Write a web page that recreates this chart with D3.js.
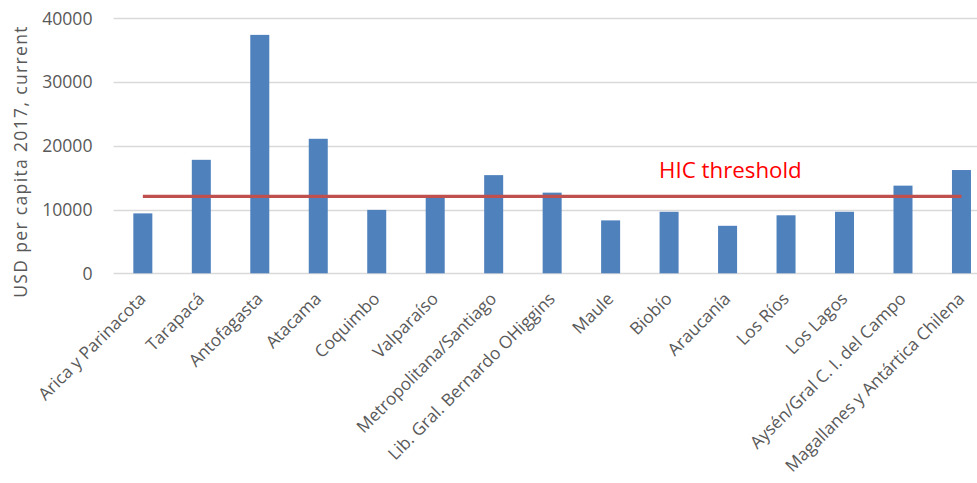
<!DOCTYPE html>
<html>
<head>
<meta charset="utf-8">
<script src="https://cdn.jsdelivr.net/npm/d3@7/dist/d3.min.js"></script>
<style>
  html, body { margin: 0; padding: 0; background: #fff; }
  svg { display: block; font-family: "Open Sans", sans-serif; }
</style>
</head>
<body>
<svg id="chart" width="977" height="483"></svg>
<script>
// Chilean regions, GDP per capita 2017 (USD, current)
const regions = [
  "Arica y Parinacota", "Tarapacá", "Antofagasta", "Atacama", "Coquimbo",
  "Valparaíso", "Metropolitana/Santiago", "Lib. Gral. Bernardo OHiggins",
  "Maule", "Biobío", "Araucanía", "Los Ríos", "Los Lagos",
  "Aysén/Gral C. I. del Campo", "Magallanes y Antártica Chilena"
];
const gdpPerCapita = [
  9400, 17800, 37400, 21100, 9950,
  11900, 15400, 12650, 8300, 9650,
  7450, 9100, 9650, 13750, 16200
];
const yTicks = [0, 10000, 20000, 30000, 40000];
const hicThreshold = 12055;
const thresholdLabel = "HIC threshold";
const yTitle = "USD per capita 2017, current";

const svg = d3.select("#chart");

const plot = { left: 113.6, right: 990.7, top: 18.3, bottom: 273.3 };

const x = d3.scaleBand()
  .domain(regions)
  .range([plot.left, plot.right])
  .paddingInner(0.675)
  .paddingOuter(0.3375);

const y = d3.scaleLinear()
  .domain([0, 40000])
  .range([plot.bottom, plot.top]);

// horizontal gridlines
svg.append("g")
  .selectAll("line")
  .data(yTicks)
  .join("line")
  .attr("x1", plot.left)
  .attr("x2", plot.right)
  .attr("y1", d => Math.round(y(d)) + 0.5)
  .attr("y2", d => Math.round(y(d)) + 0.5)
  .attr("stroke", "#d9d9d9")
  .attr("stroke-width", 1.3);

// y tick labels
svg.append("g")
  .selectAll("text")
  .data(yTicks)
  .join("text")
  .attr("x", 92.5)
  .attr("y", d => y(d))
  .attr("dy", "0.36em")
  .attr("text-anchor", "end")
  .attr("font-size", 17.6)
  .attr("fill", "#595959")
  .text(d => d);

// y axis title
svg.append("text")
  .attr("transform", `translate(27, 161.5) rotate(-90)`)
  .attr("text-anchor", "middle")
  .attr("font-size", 17.5)
  .attr("letter-spacing", 1.35)
  .attr("fill", "#595959")
  .text(yTitle);

// bars
svg.append("g")
  .selectAll("rect")
  .data(regions.map((r, i) => ({ region: r, value: gdpPerCapita[i] })))
  .join("rect")
  .attr("x", d => x(d.region))
  .attr("width", x.bandwidth())
  .attr("y", d => y(d.value))
  .attr("height", d => y(0) - y(d.value))
  .attr("fill", "#4f81bd");

// category labels, rotated
svg.append("g")
  .selectAll("text")
  .data(regions)
  .join("text")
  .attr("transform", d => `translate(${x(d) + x.bandwidth() / 2 + 4}, 300) rotate(-45)`)
  .attr("text-anchor", "end")
  .attr("font-size", 17.2)
  .attr("fill", "#595959")
  .text(d => d);

// high-income threshold line
const first = regions[0], last = regions[regions.length - 1];
svg.append("line")
  .attr("x1", x(first) + x.bandwidth() / 2)
  .attr("x2", x(last) + x.bandwidth() / 2)
  .attr("y1", y(hicThreshold))
  .attr("y2", y(hicThreshold))
  .attr("stroke", "#c0504d")
  .attr("stroke-width", 3.2);

svg.append("text")
  .attr("x", 659)
  .attr("y", 178.3)
  .attr("font-size", 22.3)
  .attr("fill", "#ff0000")
  .text(thresholdLabel);
</script>
</body>
</html>
